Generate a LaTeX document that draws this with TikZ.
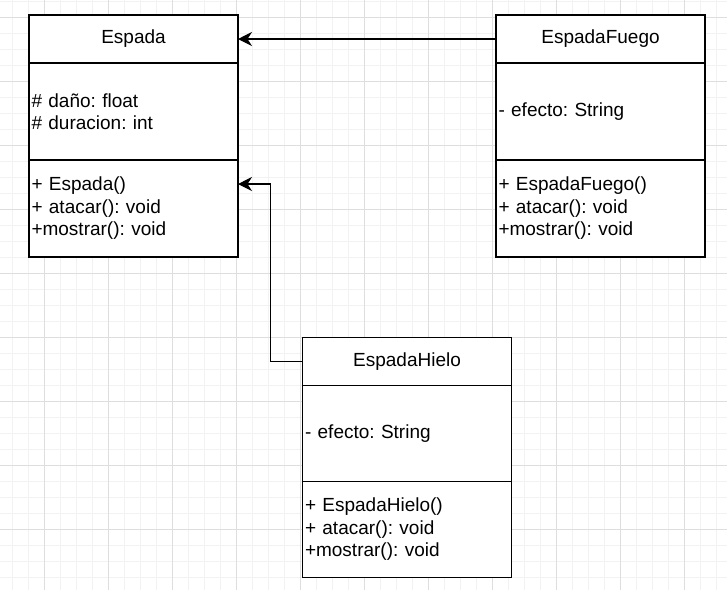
\documentclass[tikz,border=0pt]{standalone}
\usepackage{fontspec}
\setmainfont{Liberation Sans}
\usepackage{tikz}
\usetikzlibrary{calc}
\usetikzlibrary{arrows.meta}
\usetikzlibrary{positioning}
\frenchspacing

\tikzset{
  classname/.style={rectangle, draw=black, fill=white, line width=1.5pt, outer sep=0pt,
    minimum width=209pt, minimum height=48pt, font=\fontsize{19}{22.5}\selectfont},
  members/.style={rectangle, draw=black, fill=white, line width=1.5pt, outer sep=0pt,
    text width=204pt, inner xsep=2.5pt, minimum height=97pt, align=left,
    font=\fontsize{19}{22.5}\selectfont},
  inherits/.style={-{Stealth[length=14pt, width=14pt, inset=4.5pt]}, line width=1.3pt, draw=black},
  minorgrid/.style={draw=black!5, line width=1pt},
  majorgrid/.style={draw=black!13, line width=1pt}
}

\begin{document}
\begin{tikzpicture}[x=1pt, y=-1pt]
\useasboundingbox [fill=white] (0, 0) rectangle (727, 590);
% grid
\foreach \i in {0,...,45} {
  \pgfmathsetmacro\gx{12.3+16*\i}
  \draw [minorgrid] (\gx, 0) -- (\gx, 590);
}
\foreach \i in {0,...,37} {
  \pgfmathsetmacro\gy{1.3+16*\i}
  \draw [minorgrid] (0, \gy) -- (727, \gy);
}
\foreach \i in {0,...,11} {
  \pgfmathsetmacro\gx{44.3+64*\i}
  \draw [majorgrid] (\gx, 0) -- (\gx, 590);
}
\foreach \i in {0,...,9} {
  \pgfmathsetmacro\gy{17.3+64*\i}
  \draw [majorgrid] (0, \gy) -- (727, \gy);
}

% Espada
\node [classname] (espada) at (133.5, 39) {Espada};
\node [members, below=0pt of espada] (espadaAttr) {\# daño: float\\\# duracion: int};
\node [members, below=0pt of espadaAttr] (espadaMeth) {+ Espada()\\+ atacar(): void\\+mostrar(): void};

% EspadaFuego
\node [classname] (fuego) at (600.5, 39) {EspadaFuego};
\node [members, below=0pt of fuego] (fuegoAttr) {- efecto: String};
\node [members, below=0pt of fuegoAttr] (fuegoMeth) {+ EspadaFuego()\\+ atacar(): void\\+mostrar(): void};

% EspadaHielo
\node [classname] (hielo) at (407, 361.5) {EspadaHielo};
\node [members, below=0pt of hielo, minimum height=96pt] (hieloAttr) {- efecto: String};
\node [members, below=0pt of hieloAttr, minimum height=96pt] (hieloMeth) {+ EspadaHielo()\\+ atacar(): void\\+mostrar(): void};

\coordinate (espadaIn) at (espadaMeth.east |- 0, 184);
\draw [inherits] (fuego) to (espada);
\draw [inherits] (hielo.west) -- ++(-32, 0) |- (espadaIn);
\end{tikzpicture}
\end{document}
